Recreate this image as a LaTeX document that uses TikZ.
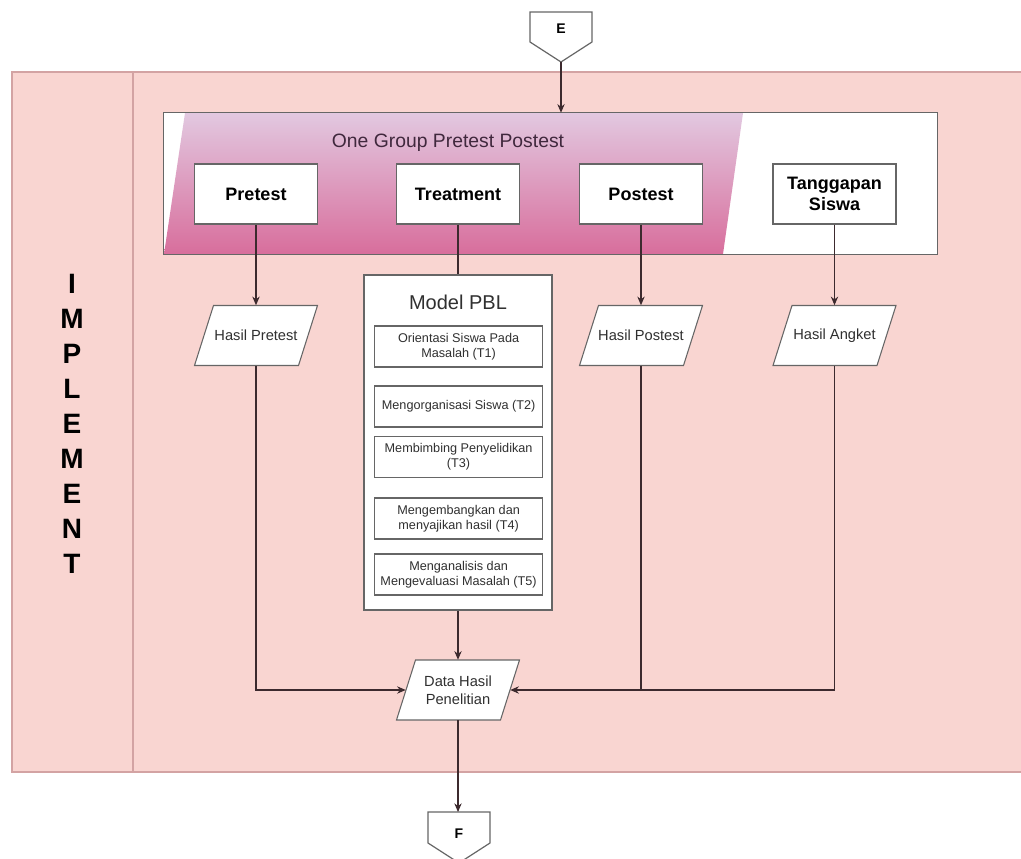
\documentclass[tikz,border=0pt]{standalone}
\usepackage{fontspec}
\setmainfont{Liberation Sans}
\usetikzlibrary{arrows.meta,calc}

\definecolor{poolfill}{HTML}{F9D5D1}
\definecolor{poolline}{HTML}{D3A3A3}
\definecolor{boxline}{HTML}{666666}
\definecolor{wire}{HTML}{3C2A2E}
\definecolor{gradtop}{HTML}{E2C8E0}
\definecolor{gradmid}{HTML}{E6A6C4}
\definecolor{gradbot}{HTML}{D86E9C}
\definecolor{titlecol}{HTML}{40283D}
\definecolor{txt}{HTML}{303030}

% parallelogram data node: name, x, y, text
\newcommand\dataio[4]{%
  \draw[iofill] ({#2-52+9.5},{#3-30}) -- ({#2+52+9.5},{#3-30})
     -- ({#2+52-9.5},{#3+30}) -- ({#2-52-9.5},{#3+30}) -- cycle;
  \node[iotext] (#1) at (#2,#3) {#4};}

\begin{document}
\begin{tikzpicture}[x=0.75pt,y=-0.75pt,
  wire/.style={draw=wire, line width=0.8pt},
  arrowwire/.style={wire, -{Stealth[length=6.5pt,width=5.5pt]}},
  stagebox/.style={draw=boxline, fill=white, line width=0.9pt,
    minimum width=92.25pt, minimum height=45pt, inner sep=0pt, align=center,
    font=\bfseries\fontsize{13.5}{15.75}\selectfont},
  stepbox/.style={draw=boxline, fill=white, line width=1pt,
    minimum width=126pt, minimum height=30.75pt, inner sep=0pt, align=center,
    text=txt, font=\fontsize{9.5}{11.25}\selectfont},
  iofill/.style={draw=boxline, fill=white, line width=0.8pt},
  iotext/.style={minimum width=78pt, minimum height=45pt, inner sep=0pt,
    align=center, text=txt, font=\fontsize{11}{13.5}\selectfont},
  offpage/.style={draw=boxline, fill=white, line width=0.9pt},
  offtext/.style={font=\bfseries\fontsize{10.5}{12}\selectfont},
]
\useasboundingbox (0,0) rectangle (1021,859);
\fill[white] (0,0) rectangle (1021,859);

% swimlane
\fill[poolfill] (12,72) rectangle (1021,772);
\draw[poolline, line width=1.4pt] (1021,72) -- (12,72) -- (12,772) -- (1021,772);
\draw[poolline, line width=1.4pt] (133,72) -- (133,772);
\node[align=center, font=\bfseries\fontsize{21}{26.25}\selectfont] (lane) at (72,424)
  {I\\M\\P\\L\\E\\M\\E\\N\\T};

% off-page connector E
\draw[offpage] (530,12) -- (592,12) -- (592,42) -- (561,62) -- (530,42) -- cycle;
\node[offtext] (E) at (561,29) {E};
\coordinate (Etip) at (561,62);

% group box with gradient band
\node[fill=white, minimum width=579.75pt, minimum height=105.75pt, inner sep=0pt] (grp) at (550.5,183.5) {};
\shade[top color=gradtop, middle color=gradmid, bottom color=gradbot]
  (185,113) -- (743,113) -- (723,254) -- (164,254) -- cycle;
\draw[boxline, line width=0.9pt] (grp.north west) rectangle (grp.south east);
\node[text=titlecol, font=\fontsize{14.5}{16}\selectfont] (grptitle) at (448,143) {One Group Pretest Postest};

\node[stagebox] (pre) at (256,194) {Pretest};
\node[stagebox] (treat) at (458,194) {Treatment};
\node[stagebox] (post) at (641,194) {Postest};
\node[stagebox] (resp) at (834.5,194) {Tanggapan\\Siswa};

% PBL model
\node[draw=boxline, fill=white, line width=0.9pt, minimum width=141pt, minimum height=251.25pt, inner sep=0pt] (pbl) at (458,442.5) {};
\node[text=txt, font=\fontsize{15}{17}\selectfont] (pbltitle) at (458,302) {Model PBL};
\node[stepbox] (t1) at (458.6,346.5) {Orientasi Siswa Pada\\Masalah (T1)};
\node[stepbox] (t2) at (458.6,406.5) {Mengorganisasi Siswa (T2)};
\node[stepbox] (t3) at (458.6,457) {Membimbing Penyelidikan\\(T3)};
\node[stepbox] (t4) at (458.6,518.5) {Mengembangkan dan\\menyajikan hasil (T4)};
\node[stepbox] (t5) at (458.6,574.5) {Menganalisis dan\\Mengevaluasi Masalah (T5)};

% data nodes
\dataio{hpre}{256}{335.5}{Hasil Pretest}
\dataio{hpost}{641}{335.5}{Hasil Postest}
\dataio{hang}{834.5}{335.5}{Hasil Angket}
\dataio{data}{458}{690}{Data Hasil\\Penelitian}

% off-page connector F
\draw[offpage] (428,812) -- (490,812) -- (490,843) -- (459,863) -- (428,843) -- cycle;
\node[offtext] (F) at (459,834) {F};
\coordinate (Ftop) at (458,812);

% connectors
\draw[arrowwire] (Etip) -- (Etip |- grp.north);
\draw[arrowwire] (pre.south) -- (hpre.north);
\draw[wire] (treat.south) -- (pbl.north);
\draw[arrowwire] (post.south) -- (hpost.north);
\draw[arrowwire] (resp.south) -- (hang.north);
\draw[arrowwire] (pbl.south) -- (data.north);
\draw[arrowwire] (hpre.south) |- (data.west);
\draw[wire] (hpost.south) -- (hpost.south |- data.east);
\draw[arrowwire] (hang.south) |- (data.east);
\draw[arrowwire] (data.south) -- (Ftop);
\end{tikzpicture}
\end{document}
